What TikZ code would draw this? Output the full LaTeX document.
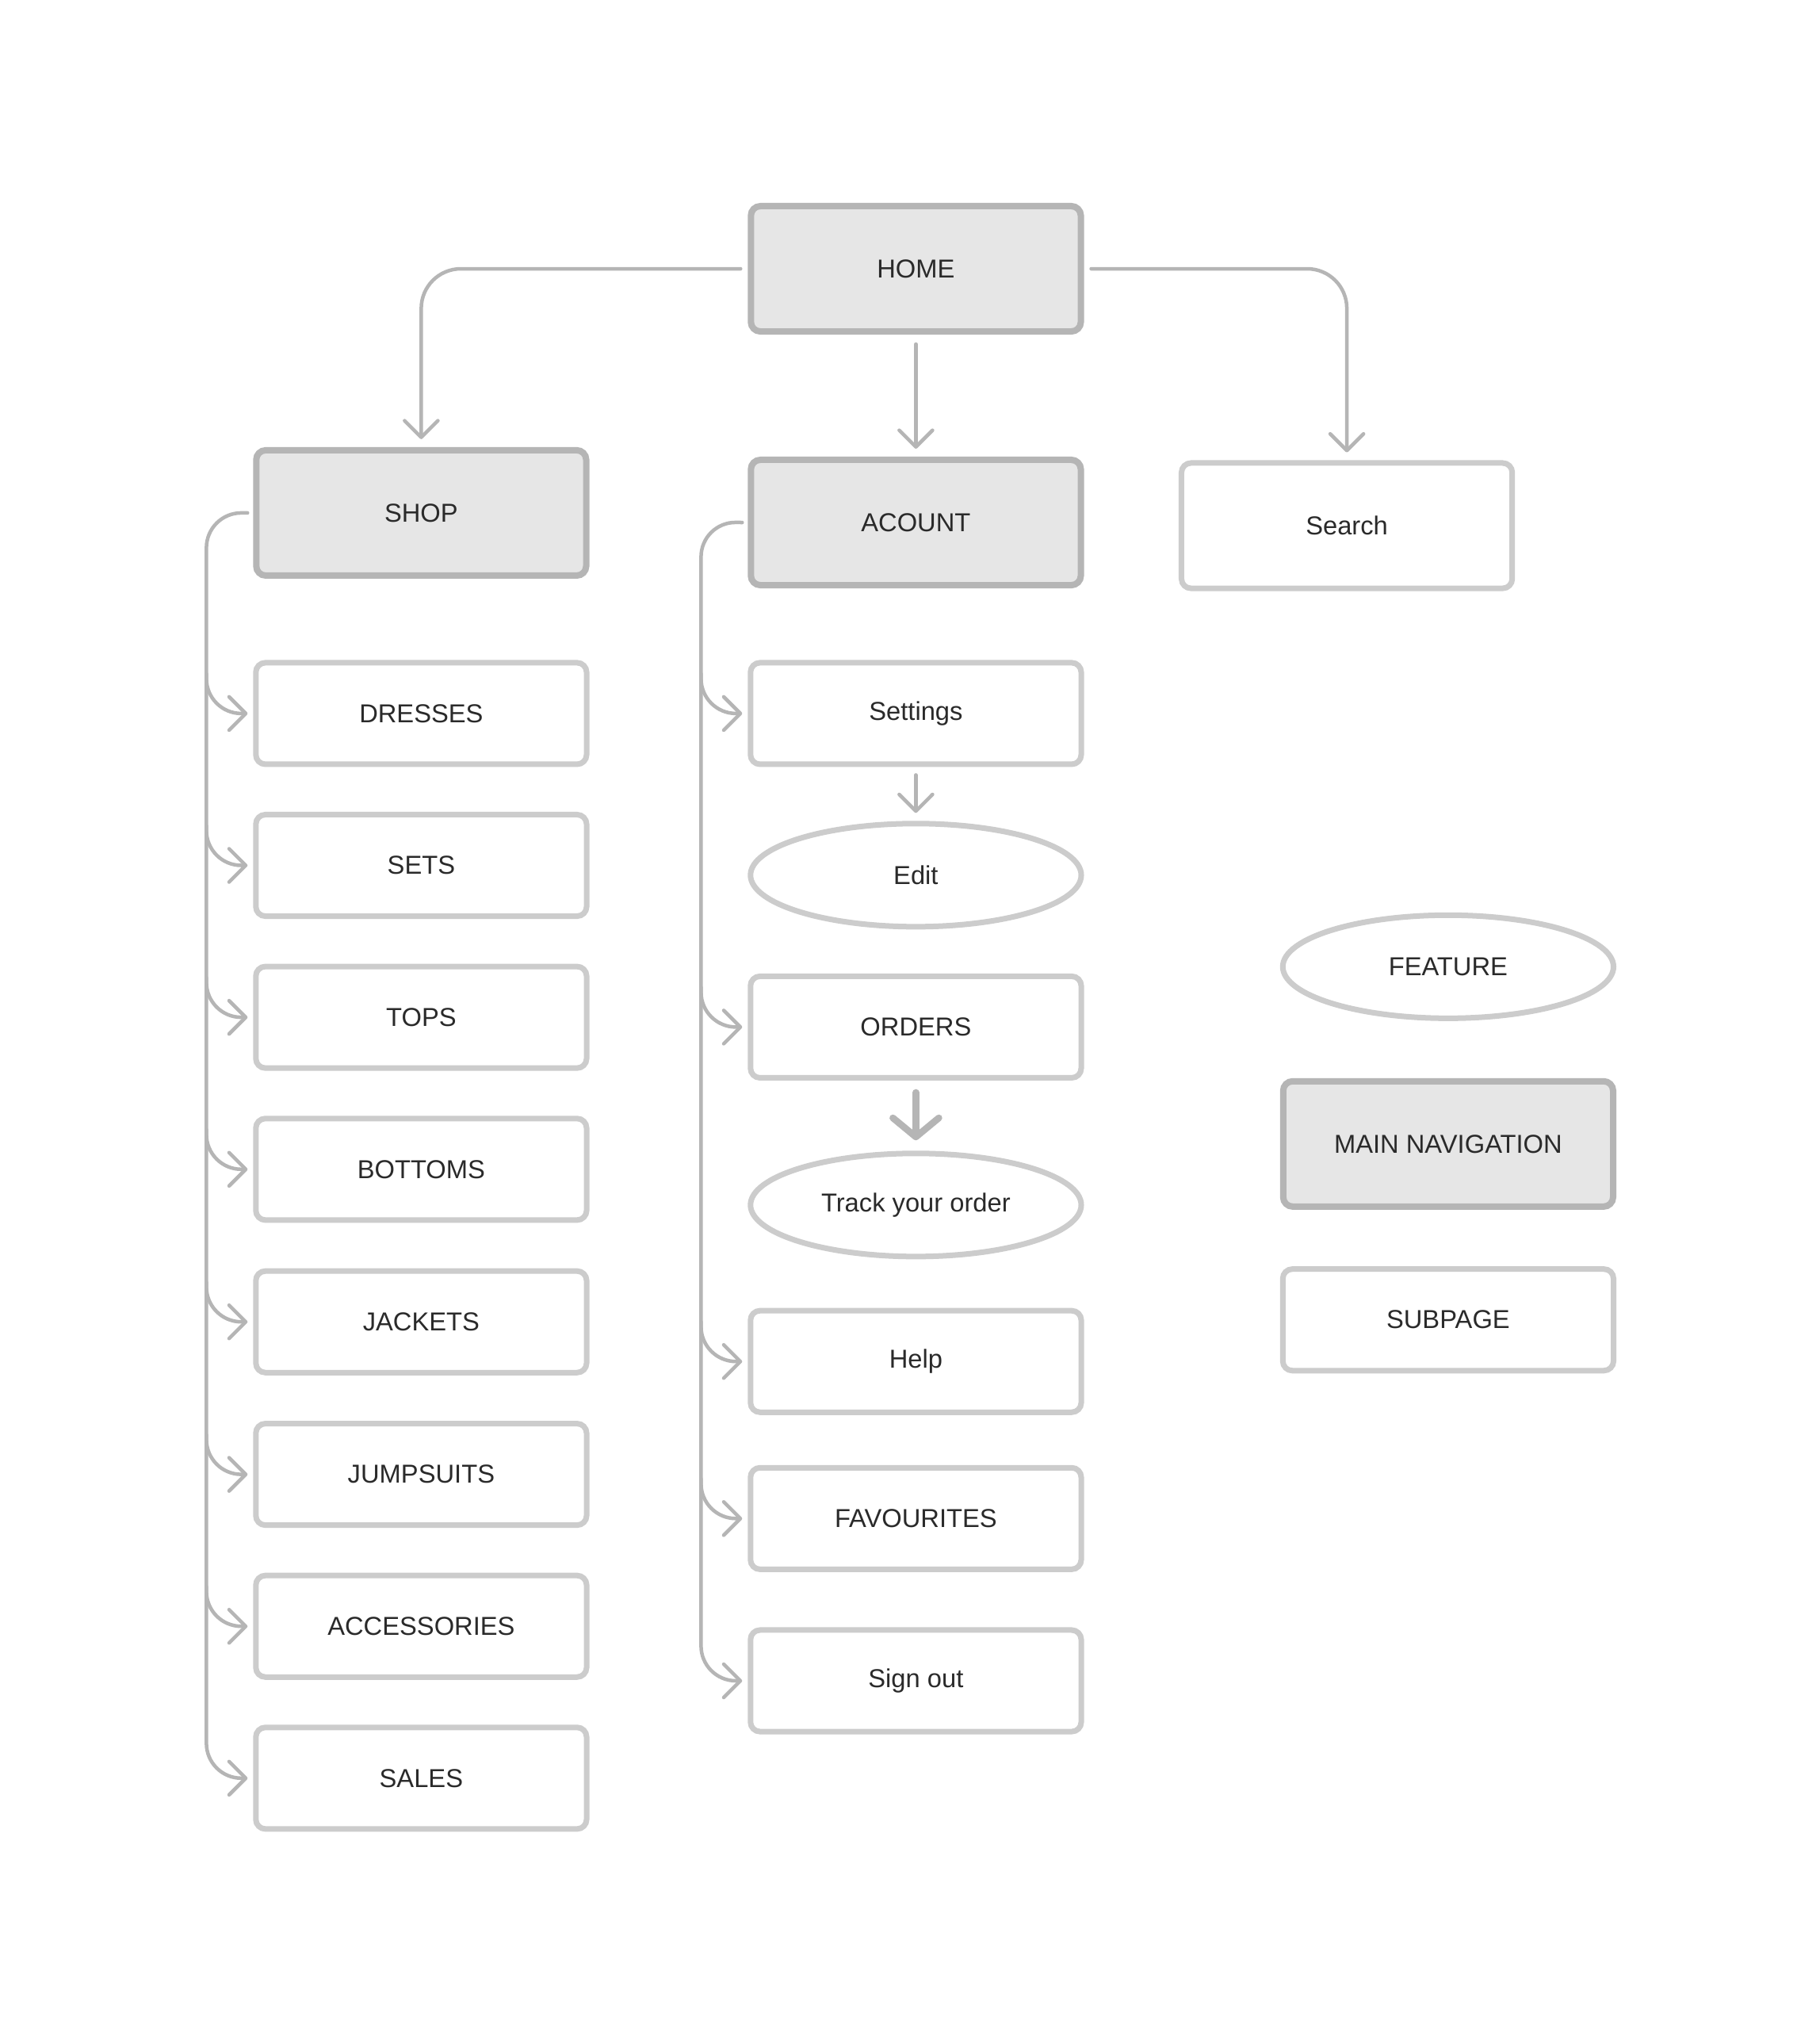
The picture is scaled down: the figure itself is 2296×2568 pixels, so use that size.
\documentclass[tikz,border=0pt]{standalone}
\usepackage{fontspec}
\setmainfont{Liberation Sans}
\usetikzlibrary{arrows.meta,shapes.geometric,calc}
\definecolor{mainfill}{HTML}{E6E6E6}
\definecolor{mainline}{HTML}{B5B5B5}
\definecolor{subline}{HTML}{CCCCCC}
\definecolor{conncol}{HTML}{B5B5B5}
\definecolor{txt}{HTML}{2A2A2A}
\begin{document}
\begin{tikzpicture}[x=0.01cm,y=-0.01cm,
  lbl/.style={text=txt,font=\fontsize{9.3}{11}\selectfont,inner sep=1pt},
  mainbox/.style={lbl,draw=mainline,fill=mainfill,line width=0.08cm,rounded corners=0.12cm,minimum width=4.16cm,minimum height=1.58cm},
  subbox/.style={lbl,draw=subline,fill=white,line width=0.07cm,rounded corners=0.12cm,minimum width=4.17cm,minimum height=1.28cm},
  featell/.style={lbl,ellipse,draw=subline,fill=white,line width=0.07cm,minimum width=4.17cm,minimum height=1.30cm},
  conn/.style={draw=conncol,line width=0.045cm,line cap=round,rounded corners=0.5cm,
    -{Straight Barb[length=0.21cm,width=0.42cm,line cap=round,line join=round]}},
  treeconn/.style={conn,rounded corners=0.44cm},
  thickconn/.style={draw=conncol,line width=0.085cm,line cap=round,
    -{Straight Barb[length=0.24cm,width=0.58cm,line cap=round,line join=round]}}
]
\fill[white] (0,0) rectangle (2296,2568);
\useasboundingbox (0,0) rectangle (2296,2568);

% main nodes
\node[mainbox] (home) at (1155.4,339) {HOME};
\node[mainbox] (shop) at (531.4,646.9) {SHOP};
\node[mainbox] (acount) at (1155.4,659) {ACOUNT};
\node[subbox,minimum height=1.58cm] (search) at (1699.1,663) {Search};

% shop list
\node[subbox] (dresses) at (531.4,899.9) {DRESSES};
\node[subbox] (sets) at (531.4,1091.5) {SETS};
\node[subbox] (tops) at (531.4,1283.1) {TOPS};
\node[subbox] (bottoms) at (531.4,1474.8) {BOTTOMS};
\node[subbox] (jackets) at (531.4,1667.2) {JACKETS};
\node[subbox] (jumpsuits) at (531.4,1859.6) {JUMPSUITS};
\node[subbox] (accessories) at (531.4,2051.2) {ACCESSORIES};
\node[subbox] (sales) at (531.4,2242.8) {SALES};

% account list
\node[subbox] (settings) at (1155.4,899.9) {Settings};
\node[featell] (edit) at (1155.4,1103.8) {Edit};
\node[subbox] (orders) at (1155.4,1295.4) {ORDERS};
\node[featell] (track) at (1155.4,1519.8) {Track your order};
\node[subbox] (help) at (1155.4,1717.2) {Help};
\node[subbox] (fav) at (1155.4,1915.3) {FAVOURITES};
\node[subbox] (signout) at (1155.4,2120.0) {Sign out};

% legend
\node[featell] (feature) at (1826.9,1219.3) {FEATURE};
\node[mainbox] (mainnav) at (1826.9,1442.8) {MAIN NAVIGATION};
\node[subbox] (subpage) at (1826.9,1664.7) {SUBPAGE};

% home connectors
\draw[conn] ([xshift=-0.09cm]home.west) -| ([yshift=0.1cm]shop.north);
\draw[conn] ([yshift=-0.12cm]home.south) -- ([yshift=0.1cm]acount.north);
\draw[conn] ([xshift=0.09cm]home.east) -| ([yshift=0.1cm]search.north);

% shop tree
\coordinate (shoptrunk) at (260.4,646.9);
\draw[treeconn] ([xshift=-0.07cm]shop.west) -- (shoptrunk) |- ([xshift=-0.07cm]sales.west);
\foreach \n in {dresses,sets,tops,bottoms,jackets,jumpsuits,accessories}{
  \draw[treeconn] ($(shoptrunk |- \n.west)+(0,-50)$) |- ([xshift=-0.07cm]\n.west);
}

% account tree
\coordinate (acctrunk) at (884.4,658.4);
\draw[treeconn] ([xshift=-0.07cm]acount.west) -- (acctrunk) |- ([xshift=-0.07cm]signout.west);
\foreach \n in {settings,orders,help,fav}{
  \draw[treeconn] ($(acctrunk |- \n.west)+(0,-50)$) |- ([xshift=-0.07cm]\n.west);
}

% feature arrows
\draw[conn] ([yshift=-0.1cm]settings.south) -- ([yshift=0.1cm]edit.north);
\draw[thickconn] ([yshift=-0.15cm]orders.south) -- ([yshift=0.13cm]track.north);
\end{tikzpicture}
\end{document}
